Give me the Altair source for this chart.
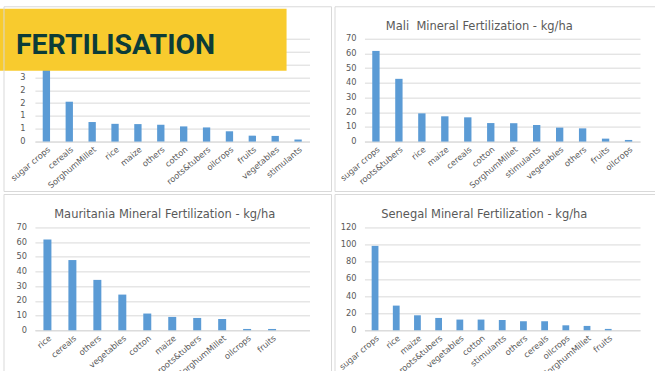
import altair as alt
import pandas as pd

# Palette and type
BAR = "#5B9BD5"
GRID = "#D9D9D9"
TXT = "#595959"
FRAME = "#D9D9D9"
BANNER = "#F8CB2E"
BANNER_TXT = "#0C3C38"
FONT = "DejaVu Sans"

# Regional overview (title hidden under the banner)
region_crops = ["sugar crops", "cereals", "SorghumMillet", "rice", "maize", "others",
                "cotton", "roots&tubers", "oilcrops", "fruits", "vegetables", "stimulants"]
region_rates = [3.7, 1.55, 0.76, 0.69, 0.68, 0.65, 0.59, 0.55, 0.40, 0.23, 0.22, 0.08]
region_ticks = [0, 0.5, 1, 1.5, 2, 2.5, 3, 3.5, 4]

# Mali
mali_crops = ["sugar crops", "roots&tubers", "rice", "maize", "cereals", "cotton",
              "SorghumMillet", "stimulants", "vegetables", "others", "fruits", "oilcrops"]
mali_rates = [61.7, 42.7, 19.2, 17.2, 16.5, 12.6, 12.5, 11.3, 9.5, 9.0, 2.0, 1.1]
mali_ticks = [0, 10, 20, 30, 40, 50, 60, 70]

# Mauritania
mauritania_crops = ["rice", "cereals", "others", "vegetables", "cotton", "maize",
                    "roots&tubers", "SorghumMillet", "oilcrops", "fruits"]
mauritania_rates = [61.8, 47.8, 34.3, 24.3, 11.4, 9.1, 8.4, 7.7, 0.9, 0.9]
mauritania_ticks = [0, 10, 20, 30, 40, 50, 60, 70]

# Senegal
senegal_crops = ["sugar crops", "rice", "maize", "roots&tubers", "vegetables", "cotton",
                 "stimulants", "others", "cereals", "oilcrops", "SorghumMillet", "fruits"]
senegal_rates = [98.5, 28.8, 17.5, 14.4, 12.5, 12.5, 12.1, 10.5, 10.5, 5.8, 5.1, 1.6]
senegal_ticks = [0, 20, 40, 60, 80, 100, 120]

ONE = pd.DataFrame({"k": [0]})


def hline(x1, x2, y):
    return alt.Chart(ONE).mark_rule(color=FRAME, strokeWidth=1).encode(
        x=alt.value(x1), x2=alt.value(x2), y=alt.value(y))


def vline(x, y1, y2):
    return alt.Chart(ONE).mark_rule(color=FRAME, strokeWidth=1).encode(
        x=alt.value(x), y=alt.value(y1), y2=alt.value(y2))


def heading(text, x, y):
    return alt.Chart(ONE).mark_text(text=text, font=FONT, fontSize=11.5, color=TXT,
                                    align="center", baseline="alphabetic").encode(
        x=alt.value(x), y=alt.value(y))


def bars(crops, rates, slots, ticks, w, h, ypad=8.5):
    df = pd.DataFrame({"crop": crops, "rate": rates})
    return alt.Chart(df).mark_bar(color=BAR).encode(
        x=alt.X("crop:N", sort=None, title=None,
                scale=alt.Scale(domain=slots, paddingInner=0.68, paddingOuter=0.34),
                axis=alt.Axis(labelAngle=-40, labelOverlap=False, labelPadding=3)),
        y=alt.Y("rate:Q", title=None,
                scale=alt.Scale(domain=[ticks[0], ticks[-1]], nice=False),
                # whole-number labels, halves rounded up
                axis=alt.Axis(values=ticks, labelExpr="'' + round(datum.value)",
                              labelPadding=ypad, labelOverlap=False)),
    ).properties(width=w, height=h)


LW, RW, H = 275, 276, 103

# Top left: regional chart under the banner
tl = alt.layer(
    bars(region_crops, region_rates, region_crops, region_ticks, LW, H, ypad=10),
    alt.Chart(ONE).mark_rect(color=BANNER).encode(
        x=alt.value(-35), x2=alt.value(252), y=alt.value(-30), y2=alt.value(32)),
    alt.Chart(ONE).mark_text(text="FERTILISATION", font="Roboto", fontSize=28.5,
                             fontWeight="bold", color=BANNER_TXT, align="left",
                             baseline="alphabetic").encode(
        x=alt.value(-19), y=alt.value(15)),
    hline(-31, 297, -32), hline(-31, 297, 153), vline(-31, -32, 153), vline(297, -32, 153),
)

# Top right: Mali
tr = alt.layer(
    bars(mali_crops, mali_rates, mali_crops, mali_ticks, RW, H),
    heading("Mali\u00a0 Mineral Fertilization - kg/ha", 115, -9),
    hline(-29.5, 291, -32), hline(-29.5, 291, 153), vline(-29.5, -32, 153),
)

# Bottom left: Mauritania
bl = alt.layer(
    bars(mauritania_crops, mauritania_rates, mauritania_crops + [" "], mauritania_ticks, LW, H),
    heading("Mauritania Mineral Fertilization - kg/ha", 130, -9.5),
    hline(-31, 297, -33), vline(-31, -33, 144), vline(297, -33, 144),
)

# Bottom right: Senegal
br = alt.layer(
    bars(senegal_crops, senegal_rates, senegal_crops + [" "], senegal_ticks, RW, H),
    heading("Senegal Mineral Fertilization - kg/ha", 120, -9.5),
    hline(-29.5, 291, -33), vline(-29.5, -33, 144),
)

chart = alt.concat(
    tl, tr, bl, br, columns=2, spacing={"row": 86, "column": 55}, bounds="flush"
).properties(
    padding={"left": 0, "top": 5.5, "right": 0, "bottom": 0},
    background="white",
).configure_view(stroke=None).configure_axis(
    labelFont=FONT, labelFontSize=8.3, labelColor=TXT, ticks=False,
    domainColor=GRID, gridColor=GRID, gridWidth=1,
).configure_axisX(grid=False).configure_axisY(domain=False, grid=True)

chart.save("out.html", embed_options={"renderer": "svg", "actions": False})
